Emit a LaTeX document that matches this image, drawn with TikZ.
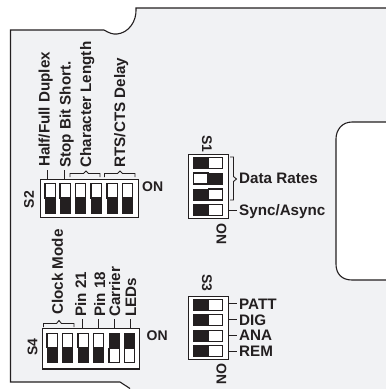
\documentclass[tikz,border=0pt]{standalone}
\usepackage{fontspec}
\setmainfont{Liberation Sans}
\definecolor{panel}{HTML}{F1F2F4}
\definecolor{ink}{HTML}{231F20}
\newcommand{\vslot}[3]{% x-left, y-top, 1=white top / 0=black top
  \pgfmathsetmacro{\xr}{#1+10.2}
  \ifnum#3=1
    \fill[ink] (#1-.5,#2+14.5) rectangle (\xr+.5,#2+30);
    \draw[ink,line width=1.1pt,fill=white] (#1,#2) rectangle (\xr,#2+14.5);
  \else
    \fill[ink] (#1-.5,#2-.5) rectangle (\xr+.5,#2+15);
    \draw[ink,line width=1.1pt,fill=white] (#1,#2+15) rectangle (\xr,#2+29.5);
  \fi}
\newcommand{\hslot}[1]{% y-top, black left
  \fill[ink] (193,#1-.5) rectangle (208.5,#1+11.5);
  \draw[ink,line width=1.1pt,fill=white] (208.5,#1) rectangle (222.5,#1+11);}
\newcommand{\hslotrev}[1]{% y-top, black right
  \fill[ink] (208,#1-.5) rectangle (223.2,#1+11.5);
  \draw[ink,line width=1.1pt,fill=white] (193.5,#1) rectangle (208,#1+11);}
\tikzset{
  lab/.style={font=\bfseries\fontsize{15.2}{15.2}\selectfont,text=ink,inner sep=0pt,anchor=base west},
  onlab/.style={lab,font=\bfseries\fontsize{14}{14}\selectfont},
  up/.style={lab,rotate=90},
  upsmall/.style={onlab,rotate=90},
  dn/.style={onlab,rotate=-90},
  dipbox/.style={draw=ink,line width=1.3pt,fill=white,inner sep=0pt,anchor=north west},
  wire/.style={draw=ink,line width=.9pt},
  edge/.style={draw=ink,line width=1.1pt}
}
\begin{document}
\begin{tikzpicture}[x=1pt,y=-1pt]
\useasboundingbox (0,0) rectangle (386,389);
% board
\fill[panel] (10.5,30) -- (104,30) .. controls (109,33) and (113,34.5) .. (117,34) .. controls (128,33) and (137,22) .. (136,8) -- (386,8) -- (386,389) -- (130,389) -- (120,382) -- (10.5,382) -- cycle;
\draw[edge] (130,388.5) -- (120,382) -- (10.5,382) -- (10.5,30) -- (104,30) .. controls (109,33) and (113,34.5) .. (117,34) .. controls (128,33) and (137,22) .. (136,8) -- (386,8);
% window
\draw[edge,fill=white] (386,122) -- (352,122) .. controls (342,122) and (336,130) .. (336,139) -- (336,264) .. controls (336,274) and (342,280) .. (352,280) -- (386,280);
% S2
\node[dipbox,minimum width=98.5pt,minimum height=38.5pt] (s2) at (39.5,178.5) {};
\vslot{45}{183.5}{1}\vslot{60}{183.5}{1}\vslot{75.5}{183.5}{1}\vslot{91}{183.5}{1}\vslot{107}{183.5}{1}\vslot{122.3}{183.5}{1}
\node[up] (half) at (49.5,167) {Half/Full Duplex};
\node[up] (stop) at (70.5,168) {Stop Bit Short.};
\node[up] (char) at (91,167.7) {Character Length};
\node[up] (rts) at (125,167.7) {RTS/CTS Delay};
\node[upsmall] (s2l) at (34,208.5) {S2};
\node[onlab] (s2on) at (142,191) {ON};
\coordinate (t1) at (47.5,170);
\coordinate (t2) at (64,170);
\draw[wire] (s2.north -| t1) -- (t1);
\draw[wire] (s2.north -| t2) -- (t2);
\draw[wire] (70,177) -- (70,173.5) -- (83.5,173.5) -- (86,171) -- (88.5,173.5) -- (100,173.5) -- (100,177);
\draw[wire] (104.5,177) -- (104.5,173.5) -- (117.5,173.5) -- (120,171) -- (122.5,173.5) -- (135,173.5) -- (135,177);
% S4
\node[dipbox,minimum width=97.5pt,minimum height=40.5pt] (s4) at (41.5,327.7) {};
\begin{scope}[shift={(2,149.7)}]
\vslot{45}{183.5}{1}\vslot{60.3}{183.5}{1}\vslot{76}{183.5}{1}\vslot{91.5}{183.5}{1}\vslot{107}{183.5}{0}\vslot{122.5}{183.5}{0}
\end{scope}
\node[up] (clock) at (63,315) {Clock Mode};
\node[up] (p21) at (86,316.7) {Pin 21};
\node[up] (p18) at (105,316.7) {Pin 18};
\node[up] (carr) at (120,316.7) {Carrier};
\node[up] (leds) at (136,316.7) {LEDs};
\node[upsmall] (s4l) at (37.5,356) {S4};
\node[onlab] (s4on) at (146.5,340) {ON};
\coordinate (u1) at (82.7,319);
\coordinate (u2) at (98.3,319);
\coordinate (u3) at (114,319);
\coordinate (u4) at (130,319);
\foreach \u in {u1,u2,u3,u4} \draw[wire] (s4.north -| \u) -- (\u);
\draw[wire] (43.5,327) -- (43.5,323.5) -- (56.5,323.5) -- (59,320.5) -- (61.5,323.5) -- (74,323.5) -- (74,327);
% S1
\node[dipbox,minimum width=40.3pt,minimum height=64pt] (s1) at (187.7,154) {};
\hslot{157.5}\hslotrev{173}\hslot{189}\hslot{204.5}
\node[dn] (s1l) at (202,135) {S1};
\node[dn] (s1on) at (216.7,223) {ON};
\node[lab] (rates) at (239,183.3) {Data Rates};
\node[lab] (sync) at (239,215) {Sync/Async};
\draw[wire] (230,157) -- (233.5,157) -- (233.5,176.5) -- (236.5,179) -- (233.5,181.5) -- (233.5,200) -- (230,200);
\coordinate (v0) at (237,210);
\draw[wire] (s1.east |- v0) -- (v0);
% S3
\node[dipbox,minimum width=40.3pt,minimum height=63.3pt] (s3) at (187.7,295.7) {};
\hslot{299.3}\hslot{314.7}\hslot{330.3}\hslot{345.7}
\node[dn] (s3l) at (202,274.3) {S3};
\node[dn] (s3on) at (216.7,363.5) {ON};
\node[lab] (patt) at (239,309) {PATT};
\node[lab] (dig) at (239,325) {DIG};
\node[lab] (ana) at (239,340.7) {ANA};
\node[lab] (rem) at (239,356) {REM};
\coordinate (w1) at (237,303.5);
\coordinate (w2) at (237,319);
\coordinate (w3) at (237,335);
\coordinate (w4) at (237,351);
\foreach \w in {w1,w2,w3,w4} \draw[wire] (s3.east |- \w) -- (\w);
\end{tikzpicture}
\end{document}
